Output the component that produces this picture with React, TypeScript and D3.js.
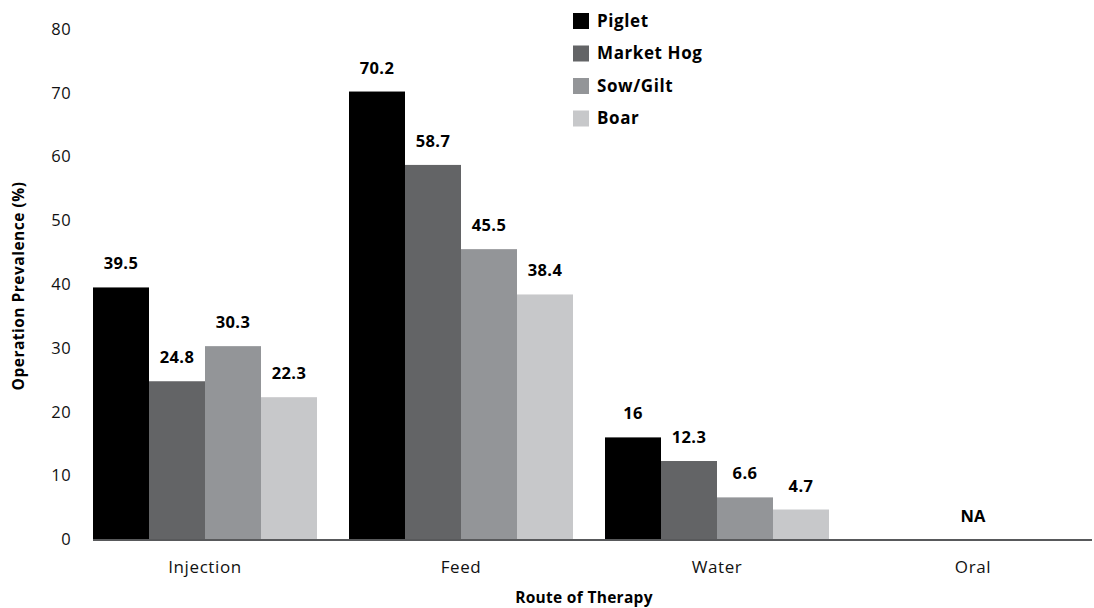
import { useEffect, useRef } from "react"
import * as d3 from "d3"

const routes = ["Injection", "Feed", "Water", "Oral"]
const seriesNames = ["Piglet", "Market Hog", "Sow/Gilt", "Boar"]
const piglet = [39.5, 70.2, 16, null]
const marketHog = [24.8, 58.7, 12.3, null]
const sowGilt = [30.3, 45.5, 6.6, null]
const boar = [22.3, 38.4, 4.7, null]
const yTicks = [0, 10, 20, 30, 40, 50, 60, 70, 80]
const colors = ["#000000", "#636466", "#939598", "#c7c8ca"]

const W = 1094, H = 608
const FONT = "'Open Sans', Lato, sans-serif"

export default function App() {
    const svgRef = useRef<SVGSVGElement>(null)

    useEffect(() => {
        if (!svgRef.current) return
        const svg = d3.select(svgRef.current)
        svg.selectAll("*").remove()

        const series = [piglet, marketHog, sowGilt, boar]
        const x0 = d3.scaleBand<string>().domain(routes).range([77, 1101]).paddingInner(0.125).paddingOuter(0.0625)
        const x1 = d3.scaleBand<string>().domain(seriesNames).range([0, x0.bandwidth()])
        const y = d3.scaleLinear().domain([0, 80]).range([539.5, 29])

        // y tick labels
        svg.append("g").selectAll("text").data(yTicks).join("text")
            .attr("x", 71).attr("y", d => y(d)).attr("dy", "0.35em")
            .attr("text-anchor", "end")
            .style("font", `16.5px ${FONT}`).style("letter-spacing", "0.4px").attr("fill", "#111")
            .text(d => d)

        // bars
        routes.forEach((r, i) => {
            const g = svg.append("g").attr("transform", `translate(${x0(r)},0)`)
            series.forEach((s, j) => {
                const v = s[i]
                if (v == null) return
                const bx = x1(seriesNames[j])!
                g.append("rect")
                    .attr("x", bx).attr("width", x1.bandwidth())
                    .attr("y", y(v)).attr("height", y(0) - y(v))
                    .attr("fill", colors[j])
                g.append("text")
                    .attr("x", bx + x1.bandwidth() / 2).attr("y", y(v) - 18)
                    .attr("text-anchor", "middle")
                    .style("font", `bold 16.5px ${FONT}`).style("letter-spacing", "0.4px").attr("fill", "#000")
                    .text(v)
            })
            if (series.every(s => s[i] == null)) {
                g.append("text")
                    .attr("x", x0.bandwidth() / 2).attr("y", 522)
                    .attr("text-anchor", "middle")
                    .style("font", `bold 16.5px ${FONT}`).attr("fill", "#000")
                    .text("NA")
            }
        })

        // x axis line
        svg.append("line")
            .attr("x1", 93).attr("x2", 1092)
            .attr("y1", y(0) + 0.5).attr("y2", y(0) + 0.5)
            .attr("stroke", "#58595b").attr("stroke-width", 2)

        // x tick labels
        svg.append("g").selectAll("text").data(routes).join("text")
            .attr("x", d => x0(d)! + x0.bandwidth() / 2).attr("y", 573)
            .attr("text-anchor", "middle")
            .style("font", `17px ${FONT}`).style("letter-spacing", "0.6px").attr("fill", "#111")
            .text(d => d)

        // axis titles
        svg.append("text")
            .attr("x", 584).attr("y", 603)
            .attr("text-anchor", "middle")
            .style("font", `bold 15.5px ${FONT}`).style("letter-spacing", "0.3px").attr("fill", "#000")
            .text("Route of Therapy")
        svg.append("text")
            .attr("transform", `translate(24,286) rotate(-90)`)
            .attr("text-anchor", "middle")
            .style("font", `bold 15.5px ${FONT}`).style("letter-spacing", "0.5px").attr("fill", "#000")
            .text("Operation Prevalence (%)")

        // legend
        const leg = svg.append("g").attr("transform", "translate(573,13)")
        seriesNames.forEach((n, j) => {
            leg.append("rect").attr("x", 0).attr("y", j * 32.5).attr("width", 16).attr("height", 16).attr("fill", colors[j])
            leg.append("text").attr("x", 24).attr("y", j * 32.5 + 8).attr("dy", "0.35em")
                .style("font", `bold 17px ${FONT}`).style("letter-spacing", "0.6px").attr("fill", "#000").text(n)
        })
    }, [])

    return <svg ref={svgRef} width={W} height={H} style={{ position: "absolute", left: 0, top: 0, background: "#fff" }} />
}
